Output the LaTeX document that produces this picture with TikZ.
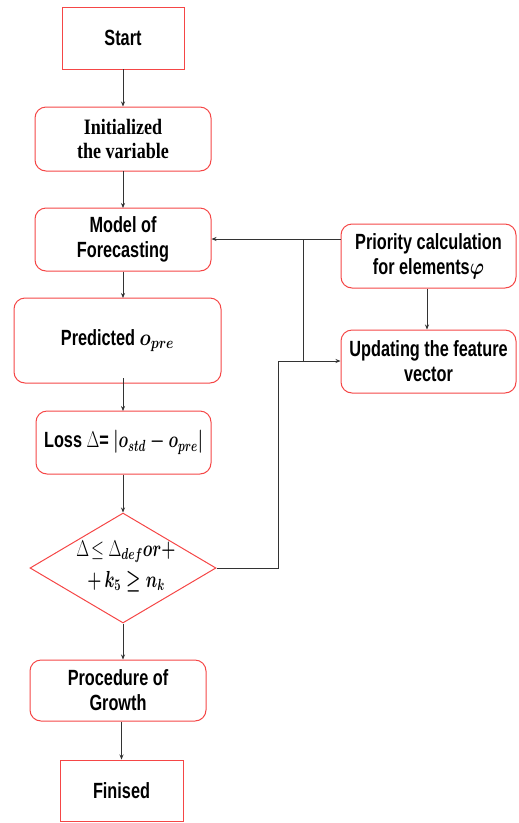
\documentclass[tikz,border=0pt]{standalone}
\usepackage{amsmath}
\usepackage{graphicx}
\usepackage{fontspec}
\setmainfont{Liberation Sans}[FakeStretch=0.74]
\newfontfamily\serifbold{Liberation Serif}[FakeStretch=0.82]
\usetikzlibrary{shapes.geometric,arrows.meta,calc}
\definecolor{boxred}{RGB}{245,70,70}
\newcommand{\mth}[1]{\scalebox{0.92}[1.12]{$\boldsymbol{#1}$}}
\newcommand{\mthn}[1]{\scalebox{0.78}[1.12]{$\boldsymbol{#1}$}}
\begin{document}
\begin{tikzpicture}[x=1pt,y=-1pt,
  every node/.style={font=\fontsize{22}{25}\selectfont\bfseries, align=center, inner sep=0pt},
  sq/.style={draw=boxred, line width=1pt, rectangle},
  rbox/.style={draw=boxred, line width=1pt, rectangle, rounded corners=11pt},
  dia/.style={draw=boxred, line width=1pt, diamond, aspect=1.69},
  arr/.style={draw=black!80, line width=0.7pt, -{Stealth[length=5pt,width=4pt]}},
  ln/.style={draw=black!80, line width=0.7pt}]
\useasboundingbox (0,0) rectangle (519,823);
\node[sq, minimum width=122pt, minimum height=62pt] (start) at (123,38) {Start};
\node[rbox, minimum width=176pt, minimum height=64pt] (init) at (123,139) {\serifbold\bfseries Initialized\\[-1pt]\serifbold\bfseries the variable};
\node[rbox, minimum width=176pt, minimum height=63pt] (model) at (123,239.5) {Model of\\Forecasting};
\node[rbox, minimum width=207pt, minimum height=85pt] (pred) at (117.5,340.5) {Predicted \mth{o_{pre}}};
\node[rbox, minimum width=175pt, minimum height=63pt] (loss) at (123.5,442.5) {Loss \scalebox{0.8}[1.1]{$\Delta$}= \mthn{\left|o_{std}-o_{pre}\right|}};
\node[dia, minimum width=186pt, minimum height=110pt] (dec) at (123,568) {};
\node (dectext) at (126,566) {\scalebox{0.8}[1.1]{$\Delta\!\le\Delta_{\boldsymbol{def}}$}\mthn{or+}\\[6pt] \mthn{+\,k_5\ge n_k}};
\node[rbox, minimum width=176pt, minimum height=61pt] (proc) at (118,690.5) {Procedure of\\Growth};
\node[sq, minimum width=123pt, minimum height=61pt] (fin) at (121.5,790.5) {Finised};
\node[rbox, minimum width=175pt, minimum height=64pt] (prio) at (428.5,256) {Priority calculation\\for elements\mth{\varphi}};
\node[rbox, minimum width=175pt, minimum height=63pt] (upd) at (428.5,361.5) {Updating the feature\\vector};
\coordinate (j1) at (303,239);
\coordinate (j2) at (303,361);
\coordinate (k1) at (278,568);
\coordinate (k2) at (278,361);
\draw[arr] (123,69) -- (init.north -| 123,0);
\draw[arr] (123,171) -- (123,208);
\draw[arr] (model.south -| 123,0) -- (123,298);
\draw[arr] (123,378) -- (123,411);
\draw[arr] (loss.south -| 123,0) -- (dec.north);
\draw[arr] (dec.south) -- (proc.north -| dec.south);
\draw[arr] (proc.south -| 121.5,0) -- (fin.north);
\draw[arr] (prio.west |- j1) -- (model.east |- j1);
\draw[ln] (j1) -- (j2);
\draw[arr] (dec.east) -- (k1) -- (k2) -- (upd.west |- k2);
\draw[arr] (prio.south -| 427,0) -- (upd.north -| 427,0);
\end{tikzpicture}
\end{document}
